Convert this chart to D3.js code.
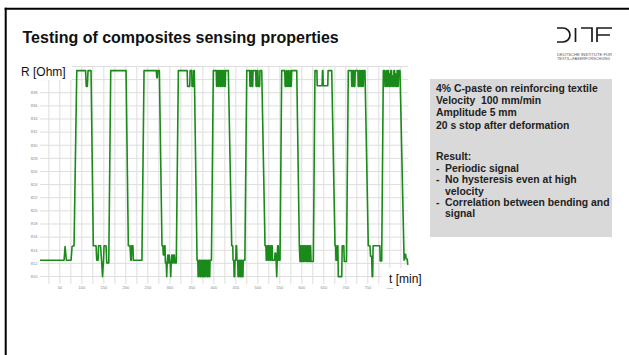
<!DOCTYPE html>
<html>
<head>
<meta charset="utf-8">
<script src="https://cdn.jsdelivr.net/npm/d3@7"></script>
<style>
  html, body { margin: 0; padding: 0; background: #fff; }
  svg { display: block; }
  text { font-family: "Liberation Sans", Arial, sans-serif; white-space: pre; }
</style>
</head>
<body>
<svg id="slide" width="629" height="355"></svg>
<script>
// ---- chart data -------------------------------------------------------
// Resistance signal of the sensing composite: [time, resistance in Ohm]
const signal = [
  // start-up and first bending cycle
  [6.1,812.4],[60.7,812.4],[63.0,814.5],[66.0,812.4],[76.6,812.4],[78.9,814.5],[83.4,814.6],
  [89.6,841.3],[109.6,841.3],[111.2,838.9],[113.6,838.9],[115.2,841.3],[122.0,841.3],
  [127.2,814.6],[133.4,814.6],[135.0,812.4],[138.0,812.4],[139.1,814.6],[143.6,814.6],[145.9,812.4],
  [148.1,809.9],[150.4,812.4],[151.6,814.6],[156.1,814.6],[157.7,812.0],[162.3,812.0],
  // cycle 2
  [166.8,841.3],[201.6,841.3],
  [206.8,814.6],[210.7,814.6],[212.3,812.4],[213.5,812.4],[214.5,814.6],[217.2,814.6],[218.2,812.4],[237.7,812.4],
  // cycle 3
  [242.5,841.3],[270.5,841.3],[271.4,840.2],[272.7,840.2],[273.7,841.3],[277.3,841.3],
  [283.3,814.6],[285.3,814.6],[286.3,813.2],[288.2,813.2],[289.0,814.6],[290.2,814.6],[291.0,812.0],[293.0,812.0],
  [294.0,809.9],[295.1,812.0],[296.6,813.2],[298.1,812.0],[299.6,813.2],[301.0,812.0],[302.3,812.0],[303.2,809.9],
  [304.2,812.0],[305.5,813.2],[307.0,812.0],[308.4,813.2],[309.9,812.0],[311.4,813.2],[312.9,812.0],[315.8,812.0],
  // cycle 4
  [320.5,841.3],[340.5,841.3],[341.4,838.9],[346.4,838.9],[347.2,841.3],[350.9,841.3],[351.6,838.9],[354.6,838.9],
  [355.3,841.3],[356.8,841.3],
  [363.0,812.4],[364.7,812.4],[365.5,809.9],[367.1,809.9],[367.9,812.4],[370.1,812.4],[370.9,809.9],[372.1,809.9],
  [372.9,812.4],[375.0,812.4],[375.8,809.9],[377.5,809.9],[378.3,812.4],[380.0,812.4],[380.7,809.9],[381.9,809.9],
  [382.7,812.4],[384.9,812.4],[385.7,809.9],[387.4,809.9],[388.1,812.4],[389.8,812.4],[390.6,809.9],[391.8,809.9],
  [392.6,812.4],[395.7,812.4],
  // cycle 5
  [400.0,841.3],[406.6,841.3],[407.4,838.9],[408.6,838.9],[409.4,841.3],[411.0,841.3],[411.8,838.9],[413.0,838.9],
  [413.8,841.3],[415.5,841.3],[416.3,838.9],[417.9,838.9],[418.7,841.3],[420.4,841.3],[421.2,838.9],[422.4,838.9],
  [423.2,841.3],[424.8,841.3],[425.6,838.9],[427.1,838.9],[427.9,841.3],[434.1,841.3],
  [441.8,814.6],[444.1,814.6],[444.9,812.4],[446.5,812.4],[447.3,809.9],[448.5,809.9],[449.3,812.4],[451.0,812.4],
  [451.8,814.6],[452.9,814.6],[453.7,812.4],[455.4,812.4],[456.2,809.9],[457.7,809.9],[458.5,812.4],[460.3,812.4],
  [461.1,809.9],[462.3,809.9],[463.1,812.4],[464.8,812.4],[465.6,809.9],[467.3,809.9],[468.0,812.4],[471.7,812.4],
  // cycle 6
  [476.0,841.3],[482.5,841.3],[483.3,838.9],[484.5,838.9],[485.3,841.3],[487.0,841.3],[487.8,838.9],[489.5,838.9],
  [490.3,841.3],[496.4,841.3],[497.1,838.9],[498.8,838.9],[499.6,841.3],[501.3,841.3],[502.1,838.9],[505.2,838.9],
  [506.0,841.3],[510.0,841.3],
  [517.5,814.6],[519.5,814.6],[520.3,812.4],[522.0,812.4],[522.8,814.6],[524.5,814.6],[525.2,812.4],[526.4,812.4],
  [527.2,814.6],[528.9,814.6],[529.7,812.4],[531.4,812.4],[532.1,814.6],[533.8,814.6],[534.6,812.4],[539.3,812.4],
  [540.2,813.5],[541.7,813.5],[542.7,812.4],[544.1,809.9],[545.2,812.4],[546.2,814.6],[547.7,814.6],[548.6,812.4],
  [551.6,812.4],
  // cycle 7
  [555.4,841.3],[562.4,841.3],[563.2,838.9],[564.4,840.5],[565.4,838.9],[566.4,841.3],[567.4,838.9],[568.4,841.0],
  [569.4,838.9],[570.3,841.3],[571.3,838.9],[572.3,840.5],[573.3,838.9],[574.3,841.3],[575.3,838.9],[576.3,841.0],
  [577.2,838.9],[578.2,841.3],[589.6,841.3],
  [595.5,814.6],[597.0,812.2],[598.0,814.6],[598.9,812.2],[599.9,814.6],[600.9,812.2],[601.9,814.6],[602.9,812.2],
  [603.9,814.6],[604.9,812.2],[605.8,814.6],[606.8,812.2],[607.8,814.6],[609.3,814.6],[610.3,812.2],[611.3,814.6],
  [612.3,812.2],[613.2,814.6],[614.2,812.2],[615.2,814.6],[616.2,812.2],[617.2,814.6],[618.2,812.2],[619.2,814.6],
  [620.1,812.2],[621.1,814.6],[622.1,812.2],[627.3,812.2],
  // cycle 8
  [631.1,841.3],[635.4,841.3],[636.2,839.0],[647.3,839.0],[648.1,841.3],[649.0,841.3],[649.8,839.0],[660.1,839.0],
  [660.9,841.3],[669.1,841.3],
  [676.6,814.6],[678.0,814.6],[678.8,812.4],[680.8,812.4],[681.8,814.6],[683.1,814.6],[684.1,809.9],[691.8,809.9],
  [693.0,814.6],[696.6,814.6],[697.6,812.2],[702.7,812.2],
  // cycle 9
  [706.8,841.3],[713.9,841.3],[714.6,838.9],[716.3,838.9],[717.1,841.3],[718.8,841.3],[719.6,838.9],[721.7,838.9],
  [722.5,841.3],[728.6,841.3],[729.4,838.9],[731.6,838.9],[732.4,841.3],[734.1,841.3],[734.9,838.9],[736.5,838.9],
  [737.3,841.3],[738.5,841.3],[739.3,838.9],[740.9,838.9],[741.7,841.3],[744.7,841.3],
  [752.2,814.6],[756.1,814.6],[757.3,813.0],[760.0,813.0],[761.0,809.9],[762.2,809.9],[763.2,814.6],[778.5,814.6],
  [779.3,812.3],[782.7,812.3],
  // cycle 10
  [786.4,841.3],[789.3,841.3],[790.1,838.9],[791.3,840.5],[792.3,838.9],[793.3,841.3],[794.2,838.9],[795.7,838.9],
  [796.7,841.3],[798.2,841.3],[799.0,838.9],[800.2,840.8],[801.1,838.9],[802.6,838.9],[803.6,841.3],[805.1,841.3],
  [805.9,838.9],[807.1,840.5],[808.0,838.9],[809.5,838.9],[810.5,841.3],[812.0,841.3],[812.8,838.9],[814.0,840.8],
  [815.0,838.9],[816.9,838.9],[817.9,841.3],[818.9,838.9],[820.4,838.9],[821.2,841.3],[824.3,841.3],
  [833.6,812.4],[834.7,813.3],[837.2,813.3],[838.1,812.6],[840.6,812.6],[842.1,811.7]
];

const xTickValues = [50, 100, 150, 200, 250, 300, 350, 400, 450, 500, 550, 600, 650, 700, 750, 800];
const yGridValues = [810, 812, 814, 816, 818, 820, 822, 824, 826, 828, 830, 832, 834, 836, 838, 840, 842];
const yLabelValues = [810, 812, 814, 816, 818, 820, 822, 824, 826, 828, 830, 832, 834, 836, 838];
const xGridStep = 25;

const slideTitle = "Testing of composites sensing properties";
const yAxisTitle = "R [Ohm]";
const xAxisTitle = "t [min]";
const setupLines = [
  "4% C-paste on reinforcing textile",
  "Velocity  100 mm/min",
  "Amplitude 5 mm",
  "20 s stop after deformation"
];
const resultHeading = "Result:";
const resultLines = [
  { dash: true,  text: "Periodic signal" },
  { dash: true,  text: "No hysteresis even at high" },
  { dash: false, text: "velocity" },
  { dash: true,  text: "Correlation between bending and" },
  { dash: false, text: "signal" }
];
const logoCaption = ["DEUTSCHE INSTITUTE FÜR", "TEXTIL+FASERFORSCHUNG"];

// ---- layout -------------------------------------------------------------
const svg = d3.select("#slide");
const plot = { left: 40, right: 408, top: 66, bottom: 284 };

const x = d3.scaleLinear().domain([6, 842.5]).range([plot.left, plot.right]);
const y = d3.scaleLinear().domain([808.78, 842]).range([plot.bottom, plot.top]);

// slide frame
svg.append("line").attr("x1", 4.7).attr("x2", 629).attr("y1", 8.7).attr("y2", 8.7)
  .attr("stroke", "#000").attr("stroke-width", 2);
svg.append("line").attr("x1", 5.7).attr("x2", 5.7).attr("y1", 7.7).attr("y2", 355)
  .attr("stroke", "#000").attr("stroke-width", 2);

// title
svg.append("text").attr("x", 22.5).attr("y", 42.5)
  .attr("font-size", 16).attr("font-weight", "bold").attr("fill", "#111")
  .text(slideTitle);

// ---- grid ---------------------------------------------------------------
const gridColor = "#dedede";
const xGrid = d3.range(xGridStep, x.domain()[1], xGridStep);
svg.append("g").attr("transform", `translate(0,${plot.bottom})`)
  .call(d3.axisBottom(x).tickValues(xGrid).tickSize(-(plot.bottom - plot.top)).tickFormat(""))
  .call(g => g.select(".domain").remove())
  .call(g => g.selectAll("line").attr("stroke", gridColor).attr("stroke-width", 1));

svg.append("g").attr("transform", `translate(${plot.left},0)`)
  .call(d3.axisLeft(y).tickValues(yGridValues).tickSize(-(plot.right - plot.left)).tickFormat(""))
  .call(g => g.select(".domain").remove())
  .call(g => g.selectAll("line").attr("stroke", gridColor).attr("stroke-width", 1));

// tick labels
svg.append("g").attr("transform", `translate(${plot.left - 1},0)`)
  .call(d3.axisLeft(y).tickValues(yLabelValues).tickSize(0).tickPadding(1.5).tickFormat(d3.format("d")))
  .call(g => g.select(".domain").remove())
  .call(g => g.selectAll("text").attr("font-size", 4).attr("fill", "#888")
    .attr("font-family", "'Liberation Sans', Arial, sans-serif"));

svg.append("g").attr("transform", `translate(0,${plot.bottom})`)
  .call(d3.axisBottom(x).tickValues(xTickValues).tickSize(0).tickPadding(2).tickFormat(d3.format("d")))
  .call(g => g.select(".domain").remove())
  .call(g => g.selectAll("text").attr("font-size", 4).attr("fill", "#888")
    .attr("font-family", "'Liberation Sans', Arial, sans-serif"));

// axis titles on white label boxes
svg.append("rect").attr("x", 17).attr("y", 56).attr("width", 55).attr("height", 24).attr("fill", "#fff");
svg.append("text").attr("x", 21).attr("y", 75.5).attr("font-size", 12).attr("fill", "#111").text(yAxisTitle);

svg.append("rect").attr("x", 382).attr("y", 268).attr("width", 44).attr("height", 20).attr("fill", "#fff");
svg.append("text").attr("x", 389).attr("y", 283.3).attr("font-size", 12).attr("fill", "#111").text(xAxisTitle);

// ---- signal -------------------------------------------------------------
const line = d3.line().x(d => x(d[0])).y(d => y(d[1]));
svg.append("path").datum(signal)
  .attr("d", line)
  .attr("fill", "none")
  .attr("stroke", "#1a8a1a")
  .attr("stroke-width", 1.6)
  .attr("stroke-linejoin", "round");

// ---- test description panel ---------------------------------------------
svg.append("rect").attr("x", 430).attr("y", 79).attr("width", 182).attr("height", 158).attr("fill", "#d9d9d9");
const panel = svg.append("g").attr("font-size", 10.4).attr("font-weight", "bold").attr("fill", "#222");
setupLines.forEach((t, i) => {
  panel.append("text").attr("x", 436).attr("y", 91.7 + i * 12.3).text(t);
});
panel.append("text").attr("x", 436).attr("y", 160).text(resultHeading);
resultLines.forEach((r, i) => {
  const yy = 172 + i * 11.3;
  if (r.dash) panel.append("text").attr("x", 436).attr("y", yy).text("-");
  panel.append("text").attr("x", 445).attr("y", yy).text(r.text);
});

// ---- DITF logo ----------------------------------------------------------
const logo = svg.append("g").attr("fill", "none").attr("stroke", "#1a1a1a").attr("stroke-width", 1.7);
logo.append("path").attr("d", "M557,28 H563 A7,7 0 0 1 563,42 H557");
logo.append("path").attr("d", "M575.5,28 V42");
logo.append("path").attr("d", "M581,28 H592 V42");
logo.append("path").attr("d", "M597,42 V28 H612 M597,35 H610");
logoCaption.forEach((t, i) => {
  svg.append("text").attr("x", 557).attr("y", 55.5 + i * 4)
    .attr("font-size", 3.6).attr("fill", "#555")
    .attr("textLength", i === 0 ? 55 : 53).attr("lengthAdjust", "spacingAndGlyphs")
    .text(t);
});
</script>
</body>
</html>
